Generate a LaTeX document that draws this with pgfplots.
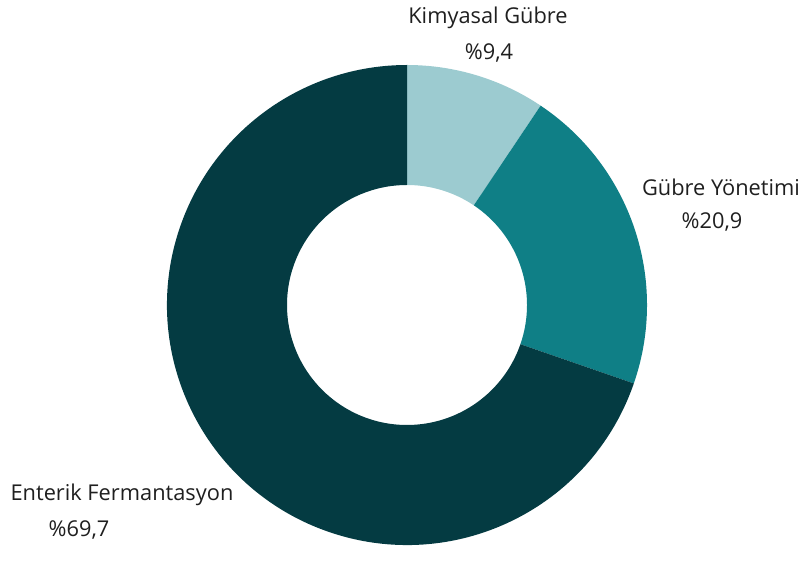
\documentclass[border=0pt]{standalone}
\usepackage{pgfplots}
\pgfplotsset{compat=1.18}
\usepackage{fontspec}
\setmainfont{Open Sans}
\definecolor{kimya}{HTML}{9CCBD0}
\definecolor{yonetim}{HTML}{0F7F86}
\definecolor{enterik}{HTML}{043B42}
\begin{document}
\begin{tikzpicture}
% shares in percent
\def\vA{9.4}  % Kimyasal Gübre
\def\vB{20.9} % Gübre Yönetimi
\def\vC{69.7} % Enterik Fermantasyon
\pgfmathsetmacro\aA{90}
\pgfmathsetmacro\aB{\aA-3.6*\vA}
\pgfmathsetmacro\aC{\aB-3.6*\vB}
\pgfmathsetmacro\aD{\aC-3.6*\vC}
\def\Ro{240pt}
\def\Ri{120pt}
\begin{axis}[
    x=1pt, y=1pt,
    xmin=0, xmax=801, ymin=0, ymax=548,
    hide axis, clip=false,
]
\path (axis cs:0,0) rectangle (axis cs:801,548);
\fill[kimya] ([shift={(\aA:\Ro)}]axis cs:407,243) arc[start angle=\aA, end angle=\aB, radius=\Ro]
   -- ([shift={(\aB:\Ri)}]axis cs:407,243) arc[start angle=\aB, end angle=\aA, radius=\Ri] -- cycle;
\fill[yonetim] ([shift={(\aB:\Ro)}]axis cs:407,243) arc[start angle=\aB, end angle=\aC, radius=\Ro]
   -- ([shift={(\aC:\Ri)}]axis cs:407,243) arc[start angle=\aC, end angle=\aB, radius=\Ri] -- cycle;
\fill[enterik] ([shift={(\aC:\Ro)}]axis cs:407,243) arc[start angle=\aC, end angle=\aD, radius=\Ro]
   -- ([shift={(\aD:\Ri)}]axis cs:407,243) arc[start angle=\aD, end angle=\aC, radius=\Ri] -- cycle;
\begin{scope}[every node/.style={font=\fontsize{21.8}{26}\selectfont, text=black!88, inner sep=0pt}]
\node at (axis cs:488,530) {Kimyasal Gübre};
\node at (axis cs:489,495) {\%9,4};
\node at (axis cs:721,361) {Gübre Yönetimi};
\node at (axis cs:712,326) {\%20,9};
\node at (axis cs:122,53) {Enterik Fermantasyon};
\node at (axis cs:79,18) {\%69,7};
\end{scope}
\end{axis}
\end{tikzpicture}
\end{document}
